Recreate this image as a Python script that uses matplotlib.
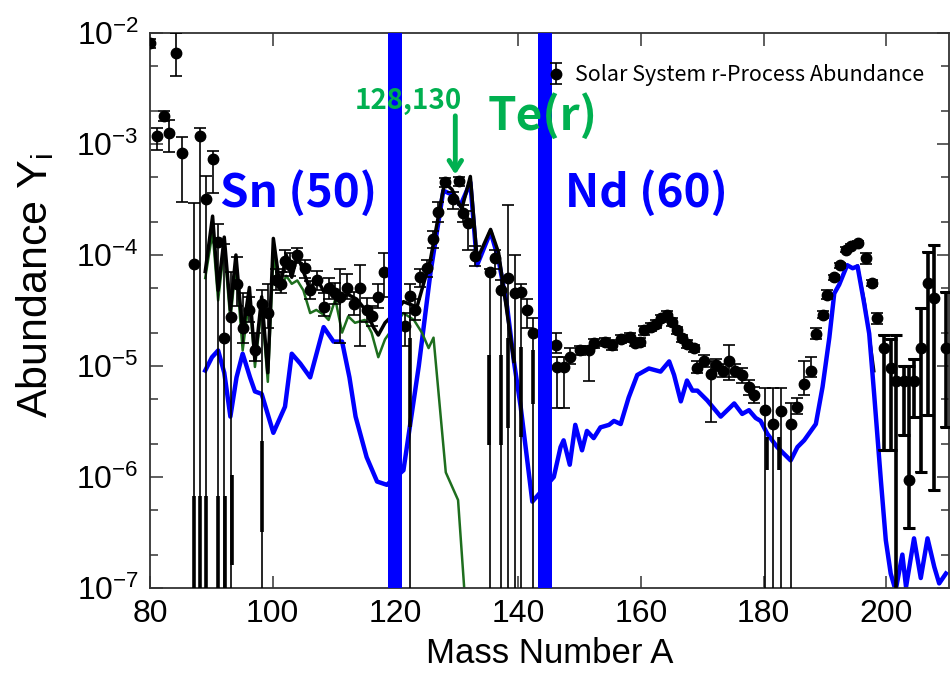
import matplotlib
matplotlib.use("Agg")
import matplotlib.pyplot as plt
from matplotlib.ticker import LogLocator, NullFormatter, MultipleLocator

# --- solar system r-process abundances ---
solar_A = [80.0, 81.1, 82.2, 83.1, 84.2, 85.2, 87.2, 88.2, 89.1, 90.2,
           91.0, 92.0, 93.2, 94.1, 95.1, 96.2, 97.1, 98.3, 99.2, 100.6,
           101.3, 102.0, 102.8, 104.0, 105.3, 106.1, 107.2, 108.3, 109.1, 110.2,
           111.0, 112.1, 113.2, 114.3, 115.4, 116.2, 117.2, 118.1, 121.6, 122.3,
           123.2, 124.0, 125.1, 126.1, 127.0, 128.1, 129.4, 130.3, 131.0, 131.8,
           133.0, 135.4, 136.3, 137.2, 138.3, 139.5, 140.5, 141.4, 142.4, 146.1,
           146.3, 147.4, 148.4, 150.1, 151.5, 152.3, 154.2, 155.3, 156.7, 158.2,
           159.0, 159.9, 160.5, 161.6, 162.4, 163.2, 164.3, 165.1, 165.9, 166.7,
           167.5, 168.6, 169.2, 170.3, 171.4, 172.2, 173.3, 174.4, 175.4, 176.5,
           177.6, 178.4, 180.2, 181.6, 182.8, 184.5, 185.5, 186.6, 187.7, 188.5,
           189.6, 190.4, 191.5, 192.4, 193.4, 194.2, 195.3, 196.6, 197.7, 198.5,
           199.6, 200.7, 201.5, 202.8, 203.7, 204.5, 205.6, 206.7, 207.7, 209.7]
solar_Y = [8.1e-3, 1.17e-3, 1.8e-3, 1.26e-3, 6.6e-3, 8.3e-4, 8.3e-5, 1.17e-3, 3.2e-4, 7.4e-4,
           1.3e-4, 1.8e-5, 2.75e-5, 5.5e-5, 2.2e-5, 3.2e-5, 1.4e-5, 3.6e-5, 3.0e-5, 6.0e-5,
           5.5e-5, 8.9e-5, 8.1e-5, 1.0e-4, 7.6e-5, 4.8e-5, 5.9e-5, 3.4e-5, 5.0e-5, 4.5e-5,
           4.2e-5, 5.0e-5, 3.6e-5, 5.0e-5, 3.2e-5, 2.8e-5, 4.2e-5, 7.0e-5, 2.3e-5, 4.3e-5,
           3.2e-5, 6.3e-5, 7.6e-5, 1.4e-4, 2.45e-4, 4.5e-4, 3.2e-4, 4.6e-4, 2.4e-4, 1.95e-4,
           9.8e-5, 7.1e-5, 9.3e-5, 4.8e-5, 6.2e-5, 4.5e-5, 4.6e-5, 3.2e-5, 2.0e-5, 1.55e-5,
           9.8e-6, 9.8e-6, 1.2e-5, 1.38e-5, 1.38e-5, 1.6e-5, 1.66e-5, 1.55e-5, 1.74e-5, 1.82e-5,
           1.62e-5, 1.66e-5, 2.1e-5, 2.24e-5, 2.4e-5, 2.7e-5, 2.9e-5, 2.5e-5, 2.1e-5, 1.78e-5,
           1.58e-5, 1.45e-5, 9.5e-6, 1.1e-5, 8.5e-6, 1.02e-5, 9.1e-6, 1.1e-5, 9.1e-6, 8.3e-6,
           6.5e-6, 5.5e-6, 4.0e-6, 3.0e-6, 3.9e-6, 3.0e-6, 4.3e-6, 6.9e-6, 9.1e-6, 1.95e-5,
           2.9e-5, 4.4e-5, 6.3e-5, 8.1e-5, 1.12e-4, 1.2e-4, 1.29e-4, 9.3e-5, 5.6e-5, 2.7e-5,
           1.45e-5, 9.5e-6, 7.4e-6, 7.4e-6, 9.3e-7, 7.4e-6, 1.45e-5, 5.6e-5, 4.1e-5, 1.45e-5]
solar_lo = [7.3e-3, 8.9e-4, 1.6e-3, 8.4e-4, 4.1e-3, 3.0e-4, 1e-9, 1e-9, 1e-9, 3.6e-4,
            1e-9, 1e-9, 1e-9, 3.5e-5, 1.6e-5, 2.5e-5, 1.1e-5, 1e-9, 2.2e-5, 4.8e-5,
            4.5e-5, 7.0e-5, 6.5e-5, 8.5e-5, 6.2e-5, 4.0e-5, 4.8e-5, 2.8e-5, 4.0e-5, 3.6e-5,
            1.6e-5, 4.0e-5, 2.9e-5, 1.5e-5, 2.5e-5, 2.3e-5, 3.3e-5, 4.2e-5, 1.5e-5, 1e-9,
            2.6e-5, 5.2e-5, 6.3e-5, 1.15e-4, 2.0e-4, 4.1e-4, 2.6e-4, 4.2e-4, 2.0e-4, 1.1e-4,
            8.0e-5, 1e-9, 7.5e-5, 1e-9, 1e-9, 1e-9, 1e-9, 2.2e-5, 1e-9, 1.3e-5,
            4.2e-6, 4.2e-6, 1.05e-5, 1.25e-5, 7.4e-6, 1.45e-5, 1.5e-5, 1.4e-5, 1.6e-5, 1.65e-5,
            1.5e-5, 1.5e-5, 1.9e-5, 2.05e-5, 2.2e-5, 2.5e-5, 2.7e-5, 2.3e-5, 1.95e-5, 1.65e-5,
            1.45e-5, 1.35e-5, 8.7e-6, 9.8e-6, 3.1e-6, 9.0e-6, 8.0e-6, 7.5e-6, 8.0e-6, 7.0e-6,
            5.5e-6, 4.6e-6, 1e-9, 1e-9, 1e-9, 1e-9, 3.7e-6, 5.5e-6, 8.0e-6, 1.75e-5,
            2.7e-5, 4.0e-5, 6.0e-5, 7.7e-5, 1.07e-4, 1.15e-4, 1.24e-4, 8.3e-5, 5.3e-5, 2.4e-5,
            1.75e-6, 1.75e-6, 1e-9, 2.4e-6, 3.5e-7, 3.5e-6, 1.1e-6, 3.6e-6, 7.6e-7, 2.8e-6]
solar_hi = [8.9e-3, 1.4e-3, 2.0e-3, 1.66e-3, 1.0e-2, 1.15e-3, 2.95e-4, 1.38e-3, 5.1e-4, 8.7e-4,
            1.9e-4, 1.25e-4, 7.0e-5, 9.5e-5, 4.5e-5, 4.2e-5, 2.0e-5, 4.8e-5, 5.5e-5, 7.5e-5,
            7.0e-5, 1.1e-4, 1.05e-4, 1.15e-4, 9.0e-5, 5.8e-5, 7.2e-5, 4.5e-5, 6.2e-5, 5.6e-5,
            7.5e-5, 6.8e-5, 4.6e-5, 8.1e-5, 4.1e-5, 3.5e-5, 5.5e-5, 1.05e-4, 3.0e-5, 5.5e-5,
            4.0e-5, 7.5e-5, 9.0e-5, 1.65e-4, 3.0e-4, 4.9e-4, 3.7e-4, 5.0e-4, 2.8e-4, 2.5e-4,
            1.2e-4, 7.5e-5, 1.1e-4, 6.0e-5, 2.8e-4, 1.0e-4, 5.5e-5, 4.0e-5, 2.7e-5, 2.0e-5,
            1.2e-5, 1.2e-5, 1.45e-5, 1.5e-5, 1.5e-5, 1.75e-5, 1.8e-5, 1.7e-5, 1.9e-5, 2.0e-5,
            1.75e-5, 1.8e-5, 2.3e-5, 2.45e-5, 2.6e-5, 2.9e-5, 3.1e-5, 2.7e-5, 2.25e-5, 1.9e-5,
            1.7e-5, 1.55e-5, 1.1e-5, 1.25e-5, 1.1e-5, 1.15e-5, 1.05e-5, 1.55e-5, 1.05e-5, 9.5e-6,
            7.5e-6, 6.5e-6, 6.3e-6, 6.3e-6, 6.3e-6, 4.6e-6, 5.2e-6, 1.1e-5, 1.2e-5, 2.2e-5,
            3.1e-5, 4.8e-5, 6.6e-5, 8.5e-5, 1.17e-4, 1.25e-4, 1.34e-4, 1.05e-4, 5.9e-5, 3.0e-5,
            1.9e-5, 1.75e-5, 1.9e-5, 1.0e-5, 1.0e-5, 1.15e-5, 3.3e-5, 1.07e-4, 1.23e-4, 4.6e-5]

# heavier lower parts of the error bars
seg_A = [87.2, 88.2, 89.1, 91.0, 92.3, 93.3, 98.3, 122.3, 135.2, 137.2,
         138.3, 140.4, 142.4, 180.6, 182.5]
seg_lo = [5e-8, 5e-8, 5e-8, 5e-8, 5e-8, 1.6e-7, 3.2e-7, 2.8e-6, 1.95e-6, 1.95e-6,
          2.75e-6, 2.3e-6, 4.5e-6, 1.15e-6, 1.15e-6]
seg_hi = [6.8e-7, 6.8e-7, 6.8e-7, 6.8e-7, 6.8e-7, 1.05e-6, 2.1e-6, 1.8e-5, 1.26e-5, 1.26e-5,
          1.8e-5, 1.48e-5, 1.38e-5, 2.3e-6, 2.3e-6]

# total model abundance
total_A = [89.0, 90.2, 91.1, 92.1, 93.1, 94.0, 95.1, 96.2, 97.1, 98.2,
           99.2, 100.1, 101.2, 102.2, 103.1, 104.0, 105.0, 106.1, 107.1, 108.3,
           109.6, 111.0, 112.3, 113.7, 115.1, 116.4, 117.2, 118.3, 119.9, 121.3,
           123.5, 125.7, 128.0, 129.2, 130.8, 132.2, 133.3, 135.5, 136.8, 137.9, 139.3]
total_Y = [7.1e-5, 2.24e-4, 4.8e-5, 1.45e-4, 3.2e-5, 1.0e-4, 2.0e-5, 5.1e-5, 1.12e-5, 4.2e-5,
           8.7e-6, 1.41e-4, 5.1e-5, 1.0e-4, 6.3e-5, 1.0e-4, 7.1e-5, 4.8e-5, 6.3e-5, 4.7e-5,
           5.1e-5, 4.2e-5, 4.4e-5, 4.0e-5, 3.2e-5, 2.24e-5, 1.9e-5, 2.45e-5, 3.0e-5, 3.8e-5,
           3.4e-5, 9.1e-5, 4.5e-4, 3.9e-4, 2.6e-4, 5.1e-4, 9.1e-5, 1.7e-4, 1.05e-4, 3.9e-5, 1.1e-5]
total_tail_A = [195.3, 196.4, 197.4, 198.0]
total_tail_Y = [8.0e-5, 3.9e-5, 1.6e-5, 9.0e-6]

# weak component
weak_A = [89.0, 90.2, 91.1, 92.1, 93.1, 94.0, 95.1, 96.2, 97.1, 98.2,
          99.2, 100.1, 101.2, 102.2, 103.1, 104.0, 105.0, 106.1, 107.1, 108.3,
          109.1, 110.2, 111.3, 112.3, 113.4, 115.0, 116.1, 117.2, 118.3, 121.3,
          123.0, 124.3, 125.4, 126.2, 128.2, 130.2, 131.2, 131.6]
weak_Y = [6.2e-5, 1.62e-4, 3.9e-5, 1.17e-4, 2.6e-5, 8.3e-5, 1.38e-5, 4.2e-5, 9.8e-6, 3.4e-5,
          7.2e-6, 9.5e-5, 4.8e-5, 6.5e-5, 5.5e-5, 5.9e-5, 4.8e-5, 3.0e-5, 3.2e-5, 2.9e-5,
          2.6e-5, 4.0e-5, 2.0e-5, 2.8e-5, 2.45e-5, 2.6e-5, 2.0e-5, 1.2e-5, 1.74e-5, 3.0e-5,
          2.6e-5, 2.0e-5, 1.45e-5, 1.8e-5, 1.1e-6, 6.2e-7, 1.0e-7, 5e-8]

# main component
main_A = [89.0, 90.1, 91.1, 92.1, 93.1, 94.1, 95.1, 96.3, 97.1, 98.2,
          100.1, 102.0, 103.1, 104.5, 106.1, 108.3, 109.9, 111.3, 112.5, 113.5,
          115.3, 117.0, 118.6, 121.3, 123.8, 125.7, 127.8, 129.2, 130.6, 132.2,
          133.3, 135.5, 136.8, 138.2, 139.3, 140.4, 142.3, 145.8, 146.9, 147.4,
          148.4, 149.3, 150.4, 151.2, 152.3, 153.4, 154.8, 155.6, 156.7, 158.0,
          159.4, 161.3, 163.2, 164.6, 165.4, 166.5, 167.5, 168.4, 169.2, 170.8,
          173.0, 175.2, 176.5, 177.6, 178.7, 179.5, 180.6, 182.2, 184.4, 185.5,
          186.6, 188.5, 189.6, 190.7, 191.5, 192.3, 193.6, 194.5, 195.3, 196.4,
          197.2, 198.0, 199.1, 199.9, 200.7, 201.5, 202.6, 203.2, 204.5, 205.6,
          206.7, 207.8, 208.6, 209.7]
main_Y = [9.1e-6, 1.2e-5, 1.38e-5, 8.7e-6, 3.5e-6, 7.9e-6, 1.29e-5, 7.9e-6, 5.9e-6, 5.6e-6,
          2.5e-6, 4.3e-6, 1.29e-5, 1.05e-5, 7.9e-6, 2.24e-5, 1.66e-5, 1.66e-5, 7.9e-6, 3.5e-6,
          1.51e-6, 9.1e-7, 8.5e-7, 1.15e-6, 1.0e-5, 6.9e-5, 3.8e-4, 3.5e-4, 2.8e-4, 4.5e-4,
          8.1e-5, 1.62e-4, 9.1e-5, 3.4e-5, 1.1e-5, 4.3e-6, 6.0e-7, 1.0e-6, 1.86e-6, 2.14e-6,
          1.29e-6, 2.95e-6, 1.74e-6, 2.6e-6, 2.24e-6, 2.8e-6, 2.95e-6, 3.2e-6, 3.0e-6, 5.2e-6,
          8.3e-6, 9.5e-6, 8.9e-6, 1.1e-5, 8.3e-6, 4.8e-6, 7.4e-6, 6.0e-6, 6.0e-6, 4.9e-6,
          3.5e-6, 4.6e-6, 3.7e-6, 4.0e-6, 3.4e-6, 3.2e-6, 2.45e-6, 1.86e-6, 1.41e-6, 1.86e-6,
          2.14e-6, 3.0e-6, 6.5e-6, 1.8e-5, 4.5e-5, 5.4e-5, 8.1e-5, 7.6e-5, 7.9e-5, 3.6e-5,
          1.95e-5, 5.6e-6, 9.3e-7, 2.7e-7, 1.35e-7, 9.5e-8, 2.0e-7, 1.02e-7, 2.8e-7, 1.23e-7,
          2.8e-7, 1.55e-7, 1.1e-7, 1.35e-7]

# closed shells, drawn as heavy vertical bars
shell_A = [119.9, 144.3]

BLUE = "#0000ff"
GREEN = "#00b050"
CJK = ["Noto Sans CJK JP", "DejaVu Sans"]

plt.rcParams["font.family"] = ["Liberation Sans", "DejaVu Sans"]
plt.rcParams["mathtext.default"] = "regular"

fig = plt.figure(figsize=(9.51, 6.81), dpi=100)
ax = fig.add_axes([150 / 951, 1 - 588 / 681, 799 / 951, 555 / 681])

# model curves
ax.plot(main_A, main_Y, color=BLUE, lw=3.2, zorder=2)
ax.plot(weak_A, weak_Y, color="#1e6e1e", lw=1.8, zorder=2.5)
ax.plot(total_A, total_Y, color="black", lw=2.5, zorder=3)
ax.plot(total_tail_A, total_tail_Y, color="black", lw=2.0, zorder=1.5)

# solar abundances with error bars; the far-right ones are drawn heavier
yerr = [[y - lo for y, lo in zip(solar_Y, solar_lo)],
        [hi - y for y, hi in zip(solar_Y, solar_hi)]]
sol = ax.errorbar(solar_A, solar_Y, yerr=yerr, fmt="o", color="black", ms=7.5,
                  elinewidth=1.2, capsize=4, capthick=1.2, zorder=4)
heavy = [i for i, a in enumerate(solar_A) if a >= 199]
ax.errorbar([solar_A[i] for i in heavy], [solar_Y[i] for i in heavy],
            yerr=[[yerr[0][i] for i in heavy], [yerr[1][i] for i in heavy]],
            fmt="none", ecolor="black", elinewidth=2.6, capsize=4, capthick=2.2,
            zorder=4)
ax.vlines(seg_A, seg_lo, seg_hi, color="black", lw=2.6, zorder=4)

for a in shell_A:
    ax.axvspan(a - 1.15, a + 1.15, color=BLUE, lw=0, zorder=6)

ax.set_yscale("log")
ax.set_xlim(80, 210.2)
ax.set_ylim(1e-7, 1e-2)

ax.xaxis.set_major_locator(MultipleLocator(20))
ax.yaxis.set_major_locator(LogLocator(base=10, numticks=10))
ax.yaxis.set_minor_locator(LogLocator(base=10, subs=(2.0, 5.0), numticks=10))
ax.yaxis.set_minor_formatter(NullFormatter())
ax.tick_params(which="both", direction="in", top=True, right=True,
               labelsize=23, width=1.1, color="#333333", pad=8)
ax.tick_params(which="major", length=9)
ax.tick_params(which="minor", length=6)
for s in ax.spines.values():
    s.set_linewidth(1.3)
    s.set_color("#333333")

ax.set_xlabel("Mass Number A", fontsize=25, labelpad=6)
ax.set_ylabel("Abundance Y$_{i}$", fontsize=31)
ax.yaxis.set_label_coords(-0.118, 0.545)

# element labels and the Te marker
ax.text(91.4, 2.7e-4, "Sn (50)", color=BLUE, fontsize=33, fontweight="bold",
        family=CJK, zorder=7)
ax.text(147.7, 2.7e-4, "Nd (60)", color=BLUE, fontsize=33, fontweight="bold",
        family=CJK, zorder=7)
ax.text(113.4, 2.05e-3, "128,130", color=GREEN, fontsize=20, fontweight="bold",
        family=CJK, zorder=7)
ax.text(135.0, 1.35e-3, "Te(r)", color=GREEN, fontsize=33, fontweight="bold",
        family=CJK, zorder=7)
ax.annotate("", xy=(129.75, 5.0e-4), xytext=(129.75, 1.9e-3),
            arrowprops=dict(arrowstyle="->,head_length=0.7,head_width=0.45",
                            color=GREEN, lw=3.5), zorder=7)

leg = ax.legend([sol], ["Solar System r-Process Abundance"], loc="center left",
                bbox_to_anchor=(0.483, 0.924), frameon=False, handlelength=0.9,
                handletextpad=0.4, borderpad=0, prop={"family": CJK, "size": 15.5})
leg.set_zorder(8)

fig.savefig("out.png", dpi=100)
